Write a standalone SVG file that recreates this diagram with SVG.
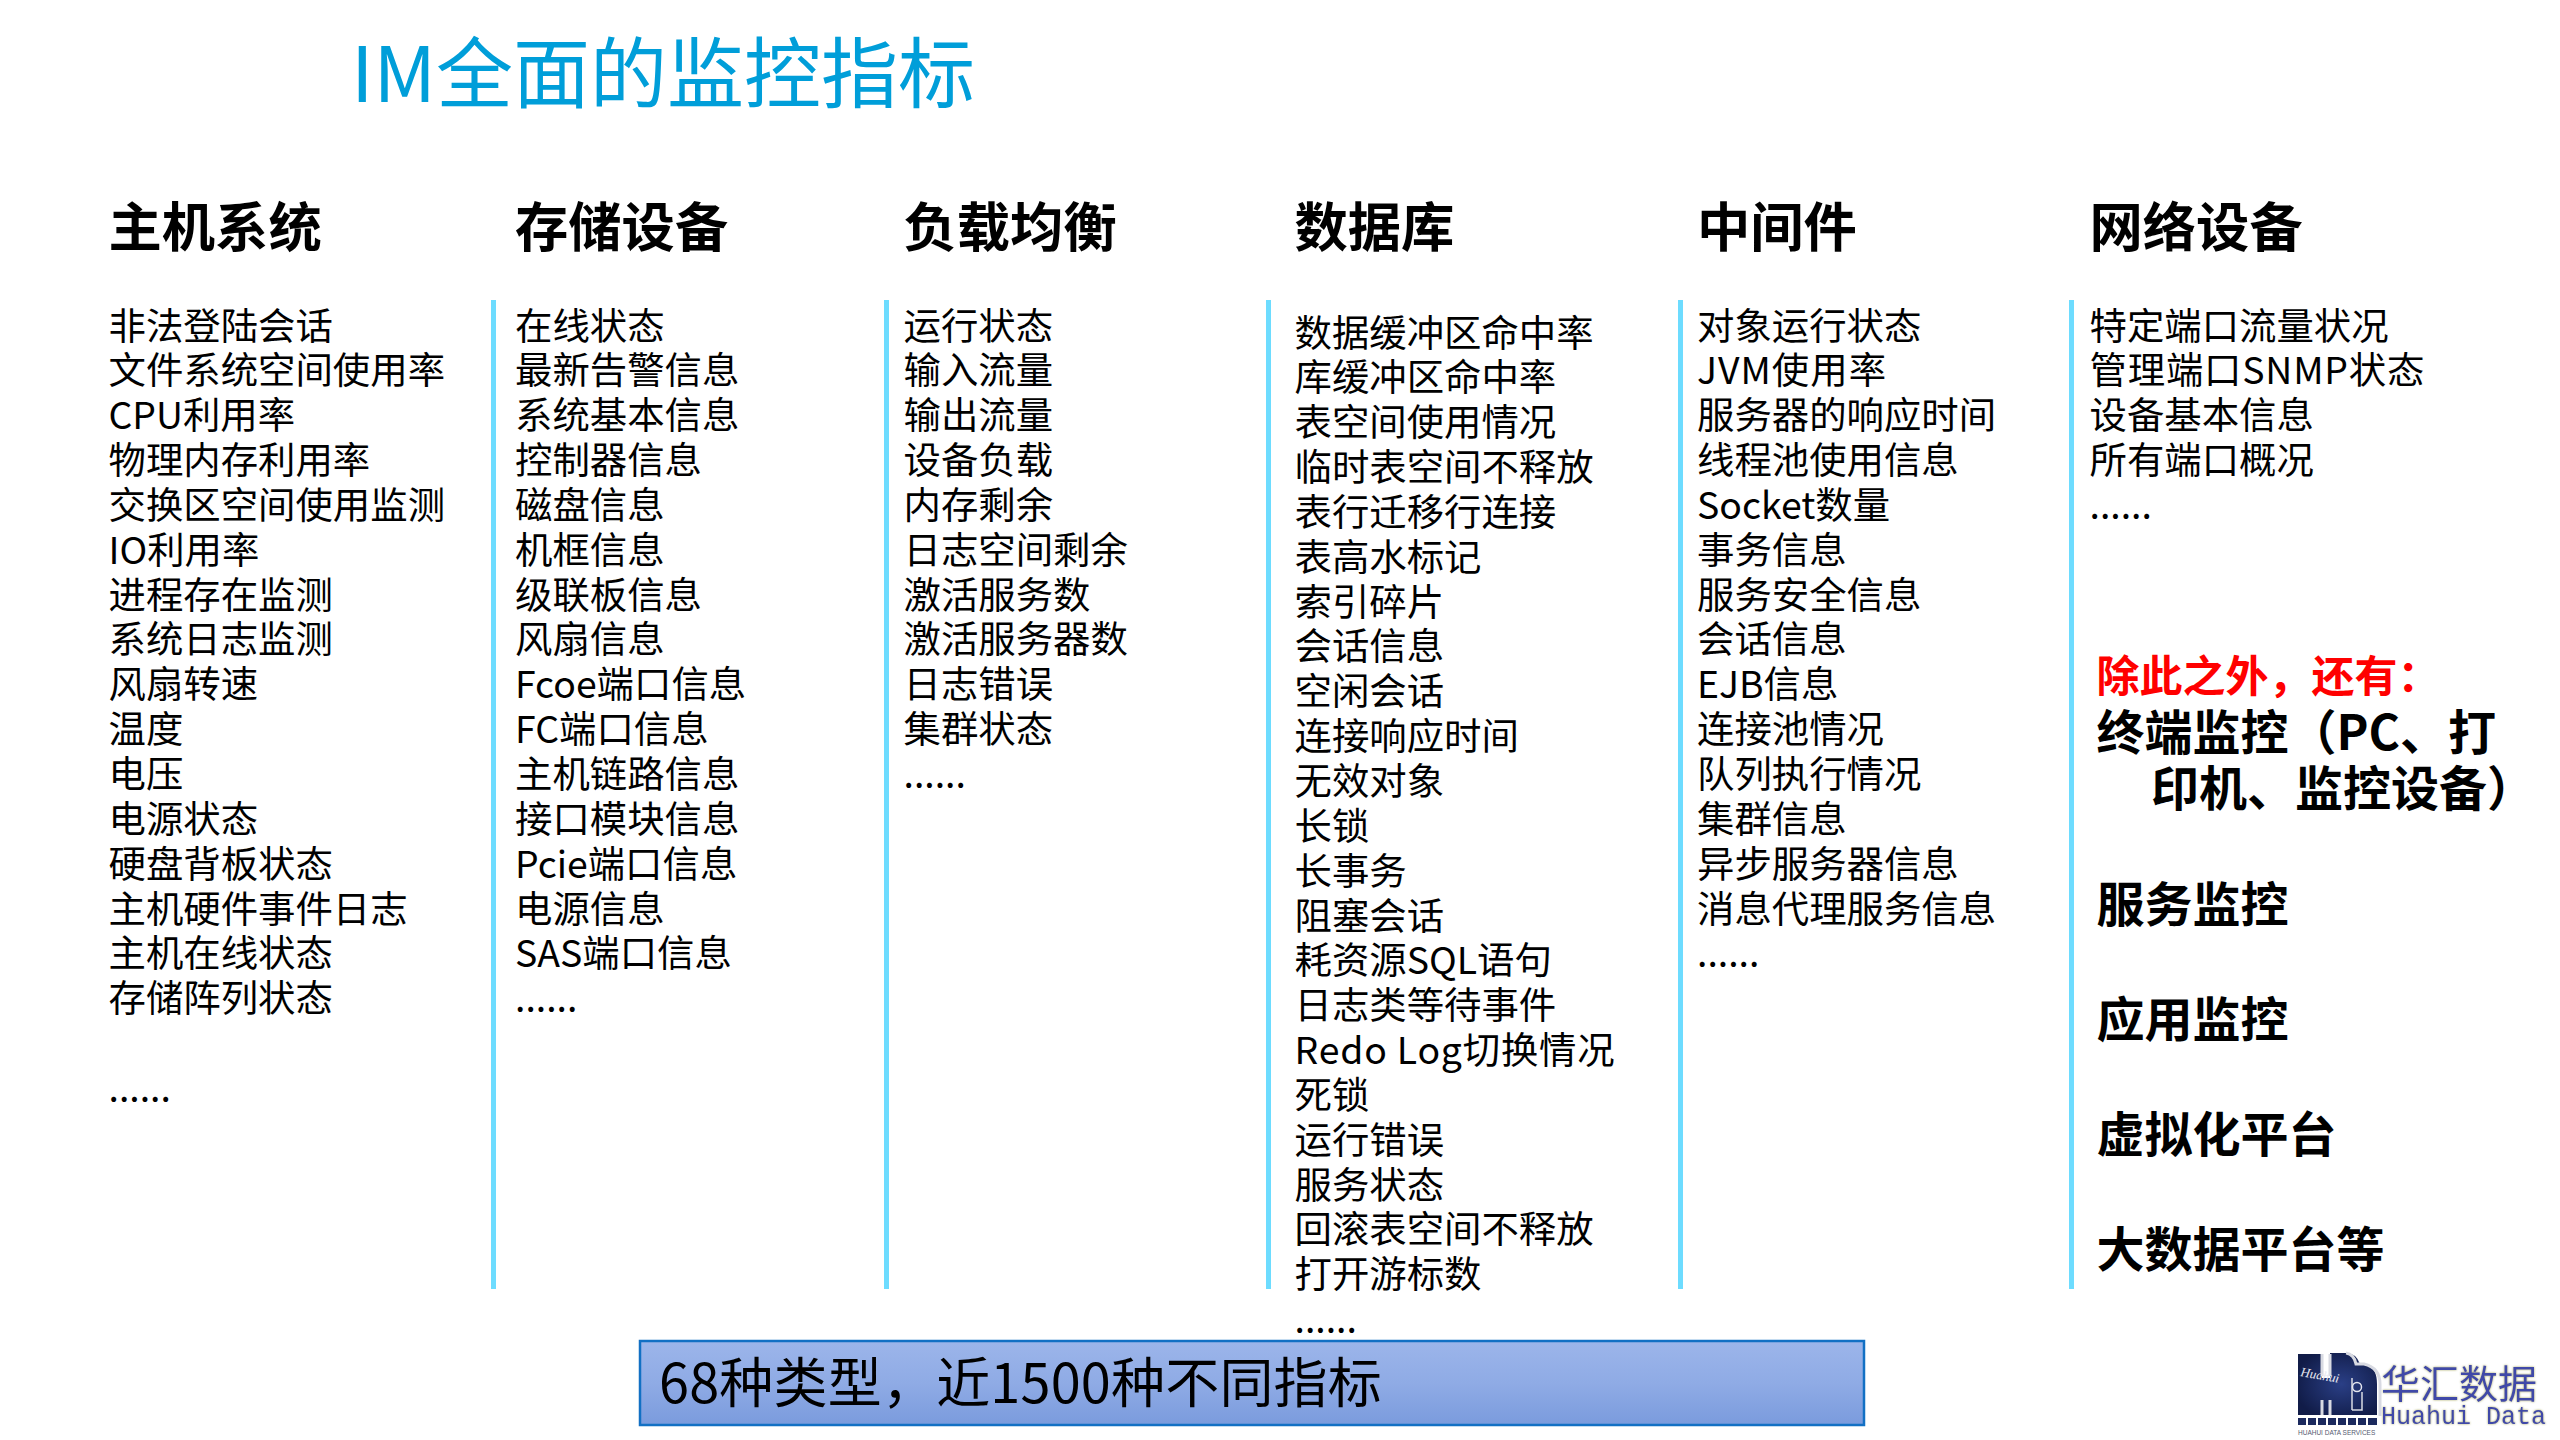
<svg xmlns="http://www.w3.org/2000/svg" width="2560" height="1440" viewBox="0 0 2560 1440">
<style>
text{font-family:"Microsoft YaHei","Noto Sans CJK SC","Noto Sans",sans-serif;fill:#000}
.title{font-size:77px;fill:#009ed9;font-weight:400}
.head{font-size:53.3px;font-weight:700}
.body{font-size:37.4px}
.bar{fill:#6ddcff}
.side{font-size:48px;font-weight:700}
</style>
<defs>
<linearGradient id="boxfill" x1="0" y1="0" x2="0" y2="1"><stop offset="0" stop-color="#9cb5ea"/><stop offset="0.5" stop-color="#8fabe5"/><stop offset="1" stop-color="#7a9bdd"/></linearGradient>
<radialGradient id="navy" cx="0.55" cy="0.5" r="0.6"><stop offset="0" stop-color="#2a3f86"/><stop offset="1" stop-color="#111c48"/></radialGradient>
<filter id="glow" x="-10%" y="-30%" width="120%" height="160%"><feGaussianBlur in="SourceAlpha" stdDeviation="2.5"/><feOffset dx="2" dy="2"/><feFlood flood-color="#a8a860" result="c"/><feComposite in="c" in2="SourceGraphic" operator="atop"/><feGaussianBlur stdDeviation="1"/><feMerge><feMergeNode/><feMergeNode in="SourceGraphic"/></feMerge></filter>
</defs>
<rect width="2560" height="1440" fill="#fff"/>
<g id="title"><text class="title" x="351" y="102">IM全面的监控指标</text></g>
<g id="bars">
<rect class="bar" x="491" y="300" width="5" height="989"/>
<rect class="bar" x="884" y="300" width="5" height="989"/>
<rect class="bar" x="1266" y="300" width="5" height="989"/>
<rect class="bar" x="1678" y="300" width="5" height="989"/>
<rect class="bar" x="2069" y="300" width="5" height="989"/>
</g>
<g id="col-host">
<text class="head" x="108.5" y="246.5">主机系统</text>
<text class="body" y="339.5"><tspan x="108.5">非法登陆会话</tspan><tspan x="108.5" dy="44.85">文件系统空间使用率</tspan><tspan x="108.5" dy="44.85">CPU利用率</tspan><tspan x="108.5" dy="44.85">物理内存利用率</tspan><tspan x="108.5" dy="44.85">交换区空间使用监测</tspan><tspan x="108.5" dy="44.85">IO利用率</tspan><tspan x="108.5" dy="44.85">进程存在监测</tspan><tspan x="108.5" dy="44.85">系统日志监测</tspan><tspan x="108.5" dy="44.85">风扇转速</tspan><tspan x="108.5" dy="44.85">温度</tspan><tspan x="108.5" dy="44.85">电压</tspan><tspan x="108.5" dy="44.85">电源状态</tspan><tspan x="108.5" dy="44.85">硬盘背板状态</tspan><tspan x="108.5" dy="44.85">主机硬件事件日志</tspan><tspan x="108.5" dy="44.85">主机在线状态</tspan><tspan x="108.5" dy="44.85">存储阵列状态</tspan><tspan x="108.5" dy="90">......</tspan></text>
</g>
<g id="col-storage">
<text class="head" x="515" y="246.5">存储设备</text>
<text class="body" y="339.5"><tspan x="515">在线状态</tspan><tspan x="515" dy="44.85">最新告警信息</tspan><tspan x="515" dy="44.85">系统基本信息</tspan><tspan x="515" dy="44.85">控制器信息</tspan><tspan x="515" dy="44.85">磁盘信息</tspan><tspan x="515" dy="44.85">机框信息</tspan><tspan x="515" dy="44.85">级联板信息</tspan><tspan x="515" dy="44.85">风扇信息</tspan><tspan x="515" dy="44.85">Fcoe端口信息</tspan><tspan x="515" dy="44.85">FC端口信息</tspan><tspan x="515" dy="44.85">主机链路信息</tspan><tspan x="515" dy="44.85">接口模块信息</tspan><tspan x="515" dy="44.85">Pcie端口信息</tspan><tspan x="515" dy="44.85">电源信息</tspan><tspan x="515" dy="44.85">SAS端口信息</tspan><tspan x="515" dy="44.85">......</tspan></text>
</g>
<g id="col-lb">
<text class="head" x="903.5" y="246.5">负载均衡</text>
<text class="body" y="339.5"><tspan x="903.5">运行状态</tspan><tspan x="903.5" dy="44.85">输入流量</tspan><tspan x="903.5" dy="44.85">输出流量</tspan><tspan x="903.5" dy="44.85">设备负载</tspan><tspan x="903.5" dy="44.85">内存剩余</tspan><tspan x="903.5" dy="44.85">日志空间剩余</tspan><tspan x="903.5" dy="44.85">激活服务数</tspan><tspan x="903.5" dy="44.85">激活服务器数</tspan><tspan x="903.5" dy="44.85">日志错误</tspan><tspan x="903.5" dy="44.85">集群状态</tspan><tspan x="903.5" dy="44.85">......</tspan></text>
</g>
<g id="col-db">
<text class="head" x="1294.5" y="246.5">数据库</text>
<text class="body" y="346.5"><tspan x="1294.5">数据缓冲区命中率</tspan><tspan x="1294.5" dy="44.85">库缓冲区命中率</tspan><tspan x="1294.5" dy="44.85">表空间使用情况</tspan><tspan x="1294.5" dy="44.85">临时表空间不释放</tspan><tspan x="1294.5" dy="44.85">表行迁移行连接</tspan><tspan x="1294.5" dy="44.85">表高水标记</tspan><tspan x="1294.5" dy="44.85">索引碎片</tspan><tspan x="1294.5" dy="44.85">会话信息</tspan><tspan x="1294.5" dy="44.85">空闲会话</tspan><tspan x="1294.5" dy="44.85">连接响应时间</tspan><tspan x="1294.5" dy="44.85">无效对象</tspan><tspan x="1294.5" dy="44.85">长锁</tspan><tspan x="1294.5" dy="44.85">长事务</tspan><tspan x="1294.5" dy="44.85">阻塞会话</tspan><tspan x="1294.5" dy="44.85">耗资源SQL语句</tspan><tspan x="1294.5" dy="44.85">日志类等待事件</tspan><tspan x="1294.5" dy="44.85" letter-spacing="0.8">Redo Log切换情况</tspan><tspan x="1294.5" dy="44.85">死锁</tspan><tspan x="1294.5" dy="44.85">运行错误</tspan><tspan x="1294.5" dy="44.85">服务状态</tspan><tspan x="1294.5" dy="44.85">回滚表空间不释放</tspan><tspan x="1294.5" dy="44.85">打开游标数</tspan><tspan x="1294.5" dy="44.85">......</tspan></text>
</g>
<g id="col-mw">
<text class="head" x="1697" y="246.5">中间件</text>
<text class="body" y="339.5"><tspan x="1697">对象运行状态</tspan><tspan x="1697" dy="44.85" letter-spacing="1">JVM使用率</tspan><tspan x="1697" dy="44.85">服务器的响应时间</tspan><tspan x="1697" dy="44.85">线程池使用信息</tspan><tspan x="1697" dy="44.85">Socket数量</tspan><tspan x="1697" dy="44.85">事务信息</tspan><tspan x="1697" dy="44.85">服务安全信息</tspan><tspan x="1697" dy="44.85">会话信息</tspan><tspan x="1697" dy="44.85">EJB信息</tspan><tspan x="1697" dy="44.85">连接池情况</tspan><tspan x="1697" dy="44.85">队列执行情况</tspan><tspan x="1697" dy="44.85">集群信息</tspan><tspan x="1697" dy="44.85">异步服务器信息</tspan><tspan x="1697" dy="44.85">消息代理服务信息</tspan><tspan x="1697" dy="44.85">......</tspan></text>
</g>
<g id="col-net">
<text class="head" x="2089.5" y="246.5">网络设备</text>
<text class="body" y="339.5"><tspan x="2089.5">特定端口流量状况</tspan><tspan x="2089.5" dy="44.85" letter-spacing="0.8">管理端口SNMP状态</tspan><tspan x="2089.5" dy="44.85">设备基本信息</tspan><tspan x="2089.5" dy="44.85">所有端口概况</tspan><tspan x="2089.5" dy="44.85">......</tspan></text>
</g>
<g id="col-other">
<text x="2096.5" y="692" font-size="43" font-weight="700" style="fill:#ff0000">除此之外，还有：</text>
<text class="side" x="2096.5" y="750">终端监控（PC、打</text>
<text class="side" x="2151" y="805.5">印机、监控设备）</text>
<text class="side" x="2096.5" y="922">服务监控</text>
<text class="side" x="2096.5" y="1037">应用监控</text>
<text class="side" x="2096.5" y="1152">虚拟化平台</text>
<text class="side" x="2096.5" y="1267">大数据平台等</text>
</g>
<g id="summary">
<rect x="640" y="1341" width="1224" height="84" fill="url(#boxfill)" stroke="#1270c4" stroke-width="2.5"/>
<text x="659" y="1403" font-size="54" letter-spacing="0.2">68种类型，近1500种不同指标</text>
</g>
<g id="logo">
<path d="M2298 1354H2322V1378H2330V1353H2346Q2356 1353 2360 1364H2366Q2377 1368 2377 1384V1415H2298Z" fill="url(#navy)"/>
<path d="M2322 1354V1376M2330 1354V1376M2322 1400V1415M2330 1400V1415M2346 1353Q2354 1354 2356 1364H2364Q2380 1368 2380 1384V1416" fill="none" stroke="#d8dae2" stroke-width="3"/>
<path d="M2352 1378V1410M2352 1410H2362V1392" fill="none" stroke="#d8dae2" stroke-width="1.5"/>
<circle cx="2357" cy="1387" r="4.5" fill="none" stroke="#e4e6ee" stroke-width="1.5"/>
<text x="2300" y="1376" font-size="13" font-style="italic" transform="rotate(10 2300 1376)" style="fill:#e8e8f0;font-family:'Liberation Serif',serif">Huahui</text>
<g fill="#1c2a5e"><rect x="2298" y="1418" width="8" height="7"/><rect x="2308" y="1418" width="8" height="7"/><rect x="2318" y="1418" width="8" height="7"/><rect x="2328" y="1418" width="8" height="7"/><rect x="2338" y="1418" width="8" height="7"/><rect x="2348" y="1418" width="8" height="7"/><rect x="2358" y="1418" width="8" height="7"/><rect x="2368" y="1418" width="9" height="7"/></g>
<text x="2298" y="1435" font-size="6.5" style="fill:#555a70;font-family:'Liberation Sans',sans-serif">HUAHUI DATA SERVICES</text>
<text x="2381" y="1398" font-size="39" filter="url(#glow)" style="fill:#3f4aa8">华汇数据</text>
<text x="2381" y="1424" font-size="25" filter="url(#glow)" style="fill:#3f4aa8;font-family:'Liberation Mono',monospace">Huahui Data</text>
</g>
</svg>
